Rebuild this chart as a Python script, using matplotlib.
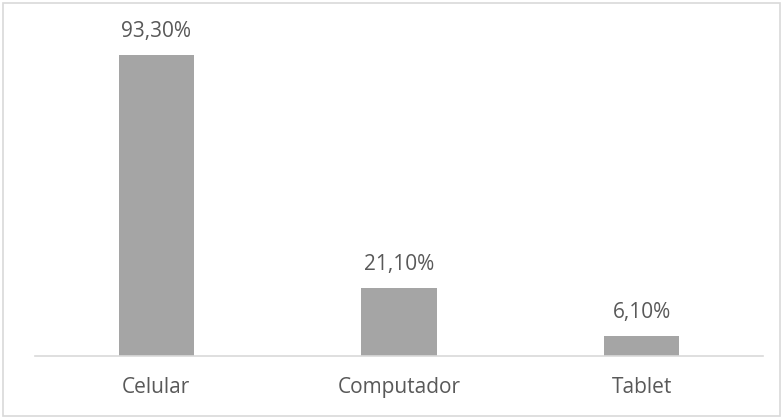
import matplotlib.pyplot as plt
from matplotlib.patches import Rectangle

categories = ["Celular", "Computador", "Tablet"]
values = [93.3, 21.1, 6.1]
labels = ["93,30%", "21,10%", "6,10%"]

plt.rcParams['font.family'] = ['Open Sans', 'DejaVu Sans']

W, H = 783, 419
fig = plt.figure(figsize=(W / 100, H / 100), dpi=100)
ax = fig.add_axes([35 / W, (H - 356) / H, (763 - 35) / W, (356 - 33.4) / H])

x = range(len(categories))
ax.bar(x, values, width=0.31, color="#A5A5A5")
for xi, v, lab in zip(x, values, labels):
    ax.text(xi, v + 4, lab, ha="center", va="bottom", fontsize=15, color="#595959")

ax.set_xlim(-0.5, 2.5)
ax.set_ylim(0, 100)
ax.set_yticks([])
ax.set_xticks(list(x))
ax.set_xticklabels(categories, fontsize=15, color="#595959")
ax.tick_params(axis="x", length=0, pad=15)
for s in ["top", "right", "left"]:
    ax.spines[s].set_visible(False)
ax.spines["bottom"].set_color("#D9D9D9")
ax.spines["bottom"].set_linewidth(1.2)

fig.patches.append(Rectangle((3 / W, 3 / H), (W - 6) / W, (H - 6) / H, transform=fig.transFigure,
                             fill=False, edgecolor="#D9D9D9", linewidth=1.2))

fig.savefig("out.png", dpi=100)
